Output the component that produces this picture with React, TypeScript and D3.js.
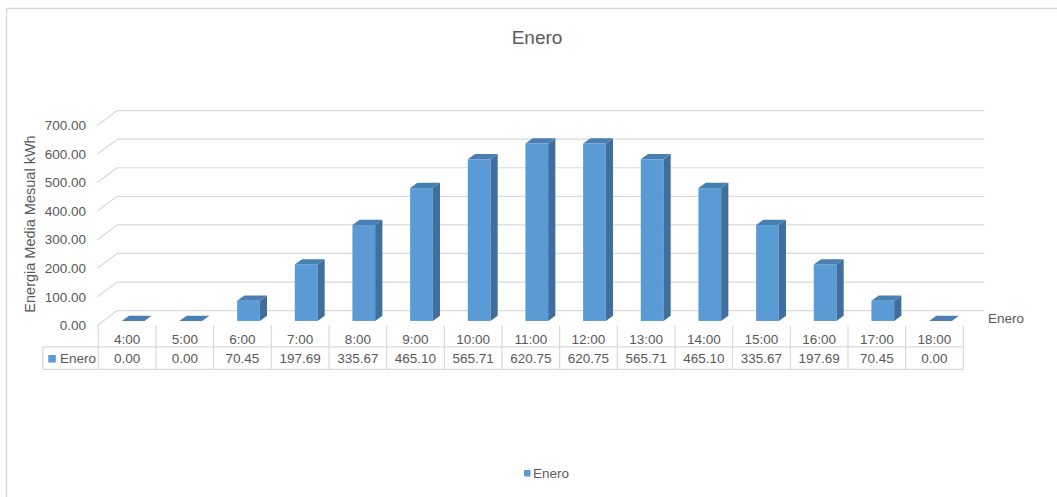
import * as d3 from "d3";
import React from "react";

// datos del gráfico
const hours = ["4:00", "5:00", "6:00", "7:00", "8:00", "9:00", "10:00", "11:00", "12:00", "13:00", "14:00", "15:00", "16:00", "17:00", "18:00"];
const enero = [0, 0, 70.45, 197.69, 335.67, 465.1, 565.71, 620.75, 620.75, 565.71, 465.1, 335.67, 197.69, 70.45, 0];
const yTicks = [0, 100, 200, 300, 400, 500, 600, 700];
const seriesName = "Enero";

const W = 1057;
const H = 497;
const TXT = "#595959";
const GRID = "#d9d9d9";
const FONT = "'Liberation Sans', Arial, sans-serif";

// profundidad 3D
const DX = 20;
const DY = -14.8;
const F1 = 0.3; // inicio barra en profundidad
const F2 = 0.66; // fin barra en profundidad

export default function App() {
  const x = d3.scaleBand<string>().domain(hours).range([98.3, 963.3]).padding(0);
  const floorFront = 325.4;
  const y = d3.scaleLinear().domain([0, 700]).range([floorFront, floorFront - 200]);
  const barW = 22.7;
  const bw = x.bandwidth();

  const tableTop = floorFront;
  const rowMid = 346.8;
  const tableBottom = 369.3;

  return (
    <svg width={W} height={H} style={{ position: "absolute", left: 0, top: 0 }} fontFamily={FONT}>
      <rect x={6.5} y={8.5} width={1060} height={600} fill="white" stroke={GRID} strokeWidth={1.5} />
      <text x={537} y={44} textAnchor="middle" fontSize={19} fill={TXT}>
        Enero
      </text>

      {/* pared de fondo */}
      <g stroke={GRID} strokeWidth={1.2} fill="none">
        {yTicks.map((t) => {
          const yf = y(t);
          const x0 = x.range()[0] - 1;
          return (
            <g key={t}>
              <line x1={x0} y1={yf} x2={x0 + DX} y2={yf + DY} />
              <line x1={x0 + DX} y1={yf + DY} x2={x.range()[1] + DX + 1} y2={yf + DY} />
            </g>
          );
        })}
      </g>
      <g fontSize={13.5} fill={TXT} textAnchor="end">
        {yTicks.map((t) => (
          <text key={t} x={86} y={y(t) + 4.8}>
            {d3.format(".2f")(t)}
          </text>
        ))}
      </g>
      <text
        transform={`translate(35,224) rotate(-90)`}
        textAnchor="middle"
        fontSize={14.5}
        fill={TXT}
      >
        Energia Media Mesual kWh
      </text>

      {/* barras */}
      <g>
        {enero.map((v, i) => {
          const x0 = x(hours[i])! + (bw - barW) / 2 + F1 * DX;
          const yb = floorFront + F1 * DY;
          const h = floorFront - y(v);
          const yt = yb - h;
          const ddx = (F2 - F1) * DX;
          const ddy = (F2 - F1) * DY;
          const x1 = x0 + barW;
          return (
            <g key={i}>
              {h > 0 && <rect x={x0} y={yt} width={barW} height={h} fill="#5b9bd5" />}
              {h > 0 && (
                <path d={`M${x1},${yt}L${x1 + ddx},${yt + ddy}L${x1 + ddx},${yb + ddy}L${x1},${yb}Z`} fill="#3f6f9c" />
              )}
              <path
                d={`M${x0},${yt}L${x0 + ddx},${yt + ddy}L${x1 + ddx},${yt + ddy}L${x1},${yt}Z`}
                fill="#4a7fb3"
              />
            </g>
          );
        })}
      </g>
      <text x={988} y={323} fontSize={13.5} fill={TXT}>
        {seriesName}
      </text>

      {/* tabla de datos */}
      <g stroke={GRID} strokeWidth={1.2}>
        {d3.range(hours.length + 1).map((k) => {
          const xx = x.range()[0] + k * bw;
          return <line key={k} x1={xx} y1={tableTop} x2={xx} y2={tableBottom} />;
        })}
        <line x1={42.7} y1={rowMid} x2={x.range()[1]} y2={rowMid} />
        <line x1={42.7} y1={tableBottom} x2={x.range()[1]} y2={tableBottom} />
        <line x1={42.7} y1={rowMid} x2={42.7} y2={tableBottom} />
      </g>
      <g fontSize={13.5} fill={TXT} textAnchor="middle">
        {hours.map((hh) => (
          <text key={hh} x={x(hh)! + bw / 2} y={343.5}>
            {hh}
          </text>
        ))}
        {enero.map((v, i) => (
          <text key={i} x={x(hours[i])! + bw / 2} y={363}>
            {d3.format(".2f")(v)}
          </text>
        ))}
      </g>
      <rect x={48.3} y={355} width={7.5} height={7.5} fill="#5b9bd5" />
      <text x={60} y={363} fontSize={13.5} fill={TXT}>
        {seriesName}
      </text>

      {/* leyenda */}
      <rect x={524} y={470} width={6.5} height={6.5} fill="#5b9bd5" />
      <text x={533} y={478} fontSize={13.5} fill={TXT}>
        {seriesName}
      </text>
    </svg>
  );
}
